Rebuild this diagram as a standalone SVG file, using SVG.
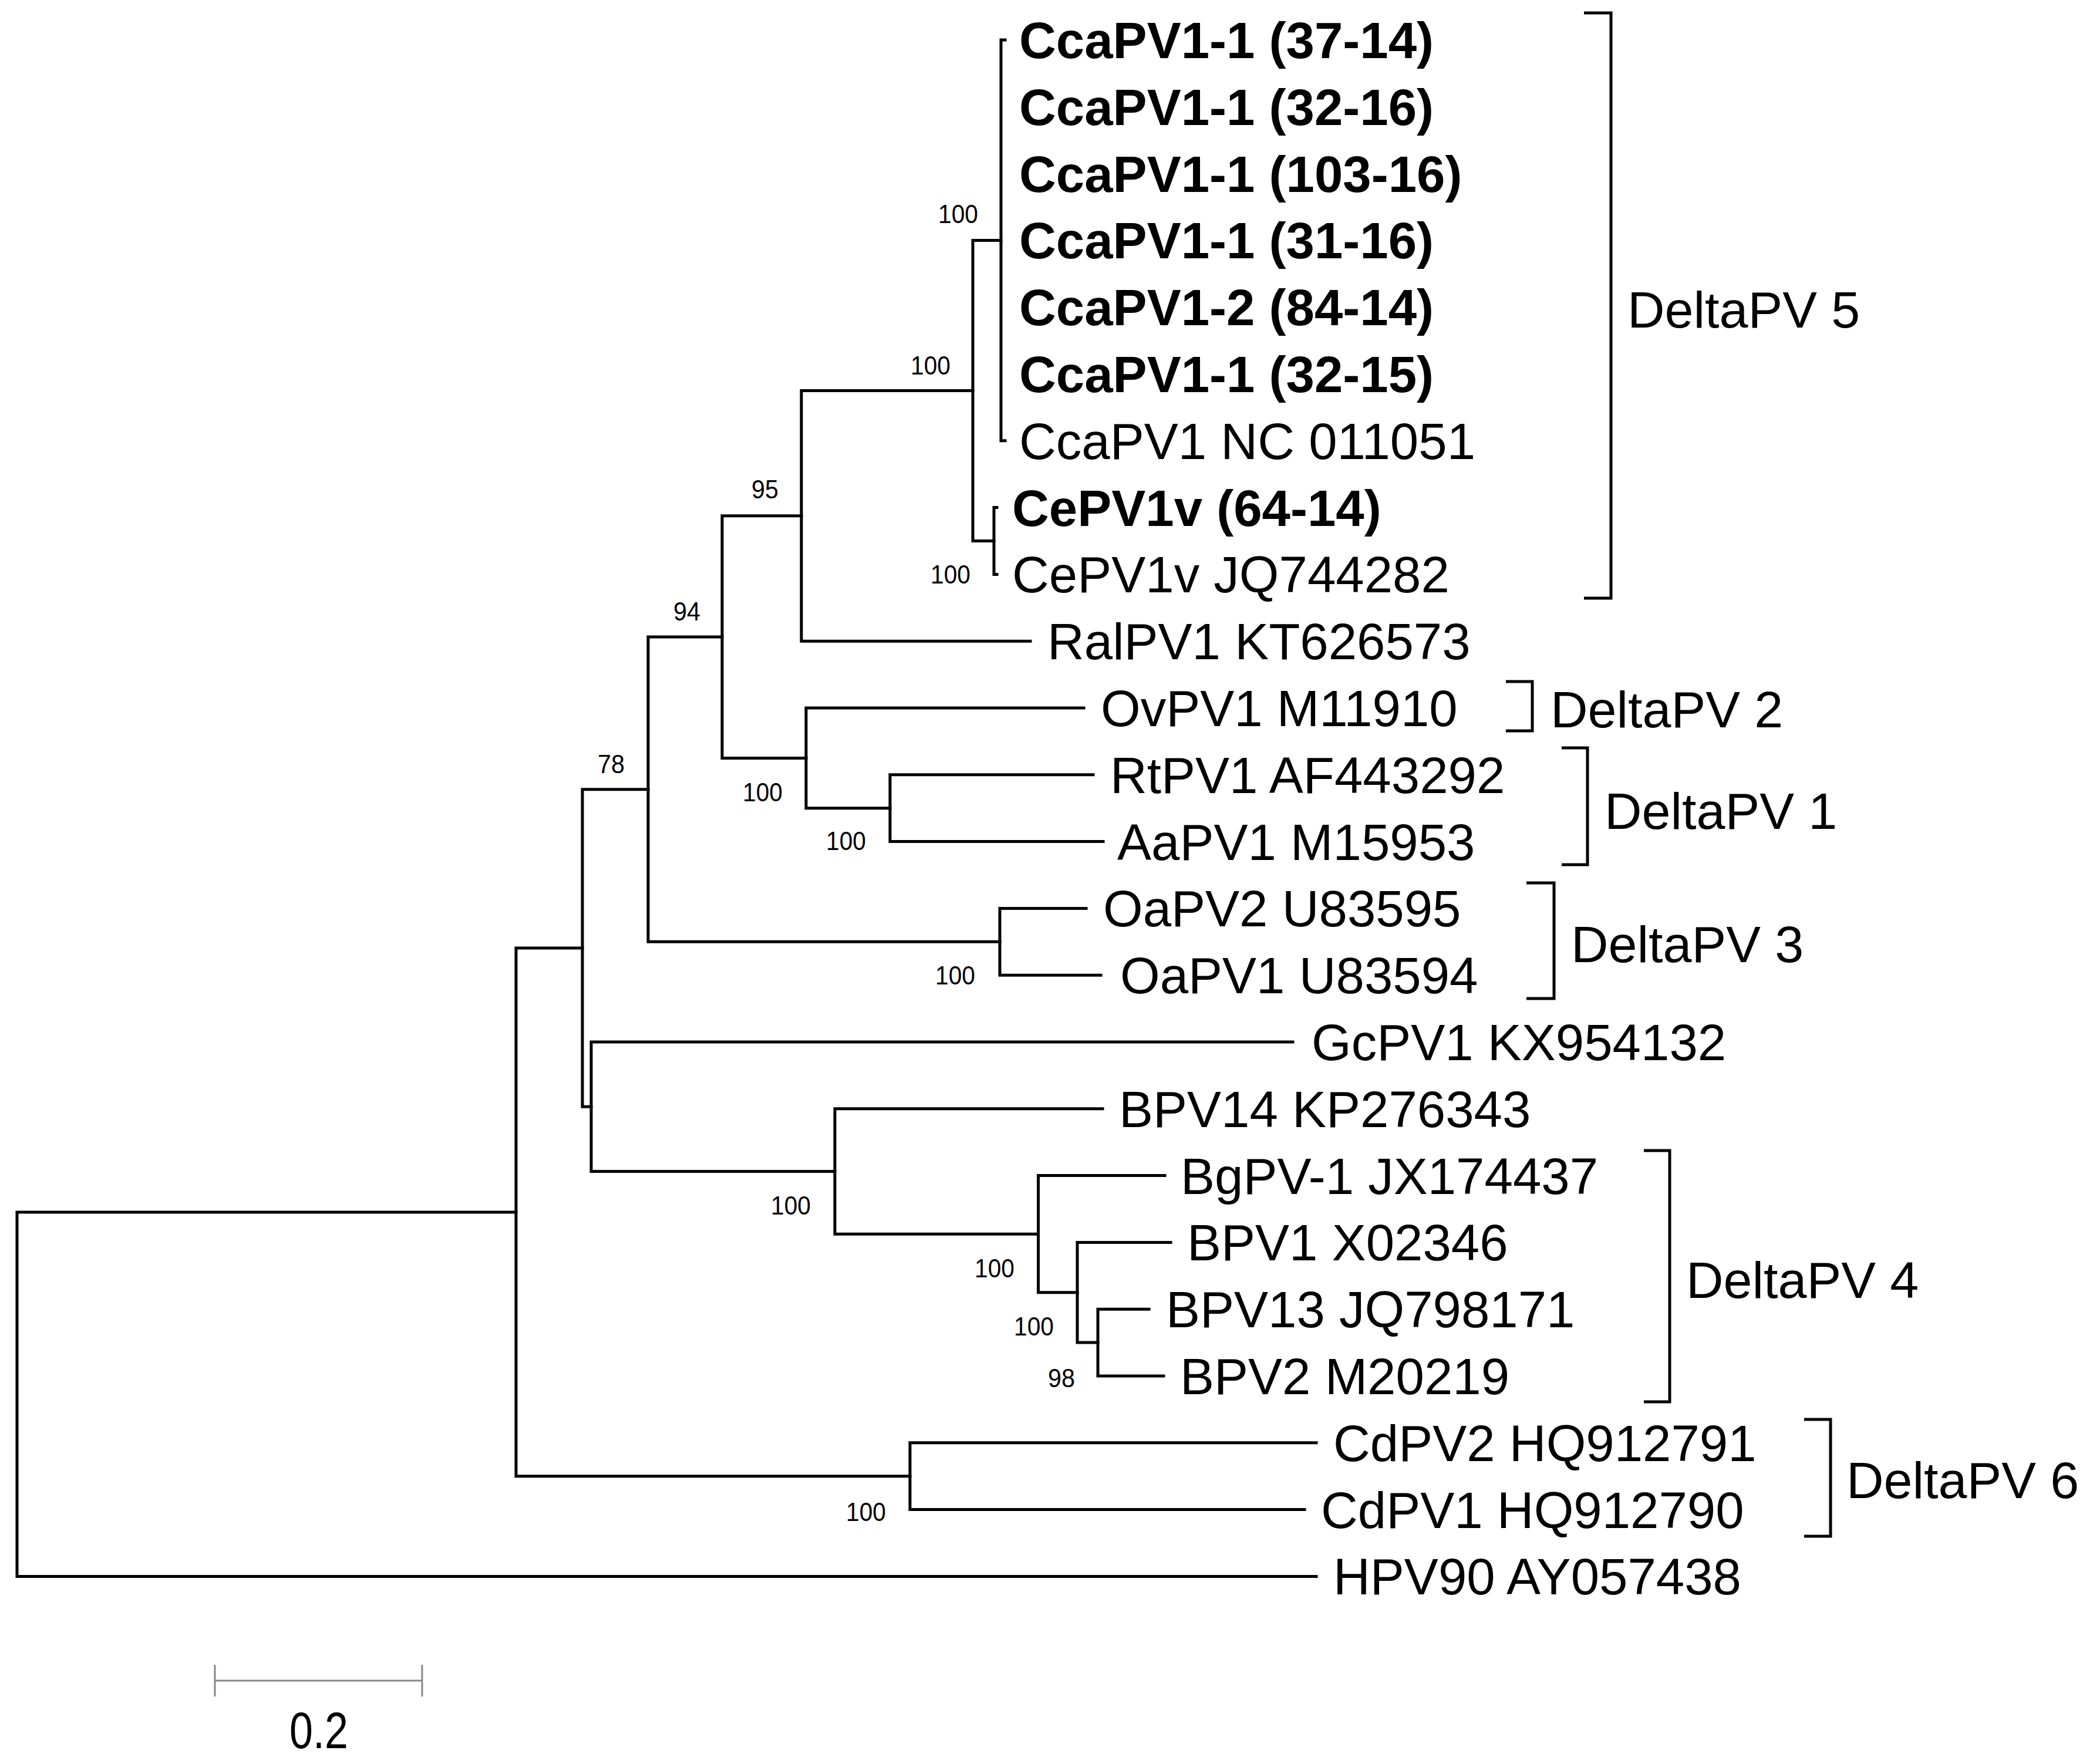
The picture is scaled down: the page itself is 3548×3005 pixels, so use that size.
<svg xmlns="http://www.w3.org/2000/svg" width="3548" height="3005" viewBox="0 0 3548 3005">
<style>
.br{fill:none;stroke:#000;stroke-width:5;stroke-linecap:square;stroke-linejoin:miter}
.bk{fill:none;stroke:#000;stroke-width:5;stroke-linecap:butt}
.lf{font-family:"Liberation Sans",Arial,sans-serif;font-size:87px;fill:#000}
.b{font-weight:bold}
.bs{font-family:"Liberation Sans",Arial,sans-serif;font-size:45px;fill:#000;text-anchor:middle}
.cl{font-family:"Liberation Sans",Arial,sans-serif;font-size:88px;fill:#000}
</style>
<rect width="3548" height="3005" fill="#fff"/>
<g id="connectors">
<path class="br" d="M2242 2685.4H29V2064.9H879"/>
<path class="br" d="M992 1615H879V2514.7H1550"/>
<path class="br" d="M1104 1344.7H992V1885.3H1007"/>
<path class="br" d="M2202 1775H1007V1995.5H1422"/>
<path class="br" d="M1878 1888.8H1422V2102.2H1768.5"/>
<path class="br" d="M1984 2002.6H1768.5V2201.8H1835"/>
<path class="br" d="M1994 2116.4H1835V2287.1H1870"/>
<path class="br" d="M1957 2230.2H1870V2344H1982"/>
<path class="br" d="M2242 2457.8H1550V2571.6H2222"/>
<path class="br" d="M1230 1085H1104V1604.3H1703"/>
<path class="br" d="M1850 1547.4H1703V1661.2H1875"/>
<path class="br" d="M1365 878.8H1230V1291.4H1373"/>
<path class="br" d="M1657 665.5H1365V1092.2H1755"/>
<path class="br" d="M1846 1206H1373V1376.7H1516"/>
<path class="br" d="M1862 1319.8H1516V1433.6H1879"/>
<path class="br" d="M1705 409.4H1657V921.5H1693"/>
<path class="br" d="M1712 68H1705V750.8H1712"/>
<path class="br" d="M1698 864.6H1693V978.4H1698"/>
</g>
<g id="leaves">
<g id="n0"><text class="lf b" x="1736" y="99">CcaPV1-1 (37-14)</text></g>
<g id="n1"><text class="lf b" x="1736" y="213">CcaPV1-1 (32-16)</text></g>
<g id="n2"><text class="lf b" x="1736" y="327">CcaPV1-1 (103-16)</text></g>
<g id="n3"><text class="lf b" x="1736" y="440">CcaPV1-1 (31-16)</text></g>
<g id="n4"><text class="lf b" x="1736" y="554">CcaPV1-2 (84-14)</text></g>
<g id="n5"><text class="lf b" x="1736" y="668">CcaPV1-1 (32-15)</text></g>
<g id="n6"><text class="lf" x="1736" y="782">CcaPV1 NC 011051</text></g>
<g id="n7"><text class="lf b" x="1724" y="896">CePV1v (64-14)</text></g>
<g id="n8"><text class="lf" x="1724" y="1009">CePV1v JQ744282</text></g>
<g id="n9"><text class="lf" x="1784" y="1123">RalPV1 KT626573</text></g>
<g id="n10"><text class="lf" x="1875" y="1237">OvPV1 M11910</text></g>
<g id="n11"><text class="lf" x="1891" y="1351">RtPV1 AF443292</text></g>
<g id="n12"><text class="lf" x="1903" y="1465">AaPV1 M15953</text></g>
<g id="n13"><text class="lf" x="1879" y="1578">OaPV2 U83595</text></g>
<g id="n14"><text class="lf" x="1908" y="1692">OaPV1 U83594</text></g>
<g id="n15"><text class="lf" x="2234" y="1806">GcPV1 KX954132</text></g>
<g id="n16"><text class="lf" x="1906" y="1920">BPV14 KP276343</text></g>
<g id="n17"><text class="lf" x="2011" y="2034">BgPV-1 JX174437</text></g>
<g id="n18"><text class="lf" x="2022" y="2147">BPV1 X02346</text></g>
<g id="n19"><text class="lf" x="1986" y="2261">BPV13 JQ798171</text></g>
<g id="n20"><text class="lf" x="2010" y="2375">BPV2 M20219</text></g>
<g id="n21"><text class="lf" x="2271" y="2489">CdPV2 HQ912791</text></g>
<g id="n22"><text class="lf" x="2250" y="2603">CdPV1 HQ912790</text></g>
<g id="n23"><text class="lf" x="2271" y="2716">HPV90 AY057438</text></g>
</g>
<g id="bootstrap">
<text class="bs" x="1632" y="380" textLength="68" lengthAdjust="spacingAndGlyphs">100</text>
<text class="bs" x="1585" y="638" textLength="68" lengthAdjust="spacingAndGlyphs">100</text>
<text class="bs" x="1303" y="849" textLength="46" lengthAdjust="spacingAndGlyphs">95</text>
<text class="bs" x="1619" y="994" textLength="68" lengthAdjust="spacingAndGlyphs">100</text>
<text class="bs" x="1170" y="1057" textLength="46" lengthAdjust="spacingAndGlyphs">94</text>
<text class="bs" x="1041" y="1317" textLength="46" lengthAdjust="spacingAndGlyphs">78</text>
<text class="bs" x="1299" y="1365" textLength="68" lengthAdjust="spacingAndGlyphs">100</text>
<text class="bs" x="1441" y="1448" textLength="68" lengthAdjust="spacingAndGlyphs">100</text>
<text class="bs" x="1627" y="1677" textLength="68" lengthAdjust="spacingAndGlyphs">100</text>
<text class="bs" x="1347" y="2069" textLength="68" lengthAdjust="spacingAndGlyphs">100</text>
<text class="bs" x="1694" y="2176" textLength="68" lengthAdjust="spacingAndGlyphs">100</text>
<text class="bs" x="1761" y="2275" textLength="68" lengthAdjust="spacingAndGlyphs">100</text>
<text class="bs" x="1808" y="2363" textLength="46" lengthAdjust="spacingAndGlyphs">98</text>
<text class="bs" x="1475" y="2591" textLength="68" lengthAdjust="spacingAndGlyphs">100</text>
</g>
<g id="clades">
<g id="c5"><path class="bk" d="M2698 22H2744V1019H2698"/><text class="cl" x="2772" y="558">DeltaPV 5</text></g>
<g id="c2"><path class="bk" d="M2565 1161H2610V1245H2565"/><text class="cl" x="2641" y="1239">DeltaPV 2</text></g>
<g id="c1"><path class="bk" d="M2660 1274H2704V1473H2660"/><text class="cl" x="2733" y="1412">DeltaPV 1</text></g>
<g id="c3"><path class="bk" d="M2600 1504H2647V1701H2600"/><text class="cl" x="2676" y="1639">DeltaPV 3</text></g>
<g id="c4"><path class="bk" d="M2800 1960H2844V2388H2800"/><text class="cl" x="2872" y="2211">DeltaPV 4</text></g>
<g id="c6"><path class="bk" d="M3073 2418H3118V2617H3073"/><text class="cl" x="3145" y="2552">DeltaPV 6</text></g>
</g>
<g id="scale">
<path d="M366 2863H719M366 2836V2890M719 2836V2890" fill="none" stroke="#888" stroke-width="3"/>
<text class="cl" x="543" y="2978" text-anchor="middle" font-size="80" textLength="100" lengthAdjust="spacingAndGlyphs">0.2</text>
</g>
</svg>
